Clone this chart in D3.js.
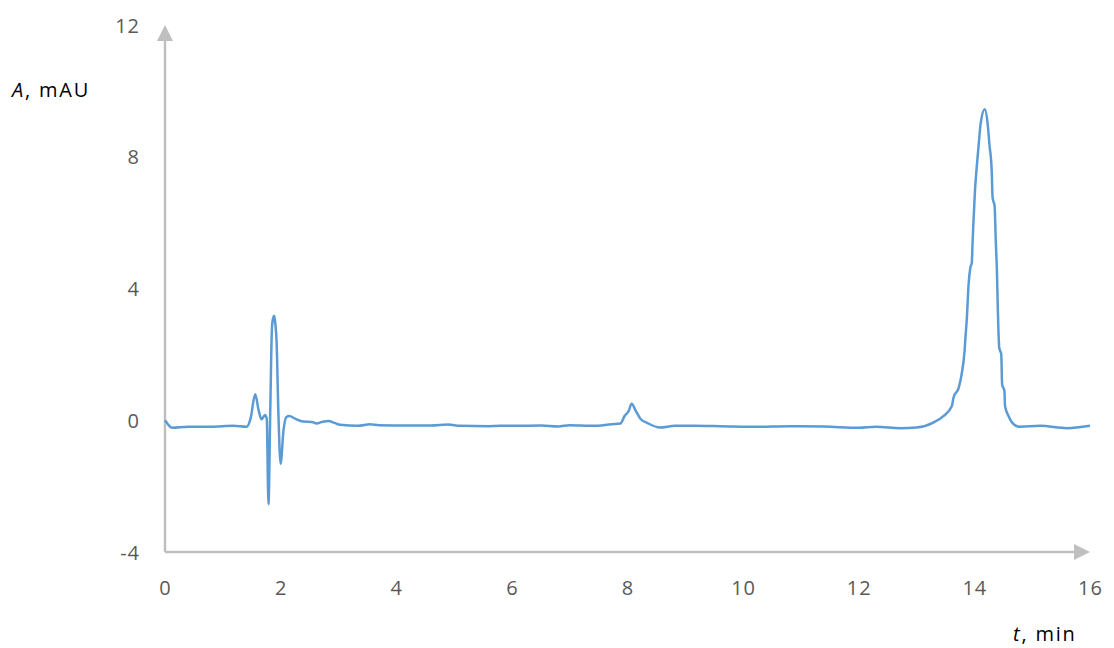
<!DOCTYPE html>
<html lang="en">
    <head>
        <meta charset="utf-8">
        <title>Chromatogram</title>
        <script src="https://cdn.jsdelivr.net/npm/d3@7"></script>
        <style type="text/css">
            body { margin: 0; background: #fff; }
            text { font-family: "Open Sans", "Liberation Sans", sans-serif; fill: #595959; }
        </style>
    </head>
    <body>
        <script type="text/javascript">
            // retention time, min
            var times = [0, 0.05, 0.12, 0.4, 0.8, 1.18, 1.41, 1.48, 1.56, 1.62, 1.67, 1.73, 1.76, 1.79, 1.82, 1.85, 1.87, 1.89, 1.91, 1.93, 1.96, 2.0, 2.05, 2.1, 2.15, 2.25, 2.39, 2.54, 2.62, 2.72, 2.83, 2.93, 3.03, 3.34, 3.55, 3.7, 4.2, 4.6, 4.9, 5.1, 5.6, 5.8, 6.1, 6.5, 6.8, 7.0, 7.4, 7.73, 7.88, 7.95, 8.02, 8.07, 8.15, 8.23, 8.33, 8.56, 8.82, 9.14, 9.6, 10.2, 10.8, 11.4, 12.0, 12.3, 12.72, 13.0, 13.29, 13.47, 13.61, 13.64, 13.73, 13.78, 13.83, 13.845, 13.87, 13.9, 13.93, 13.955, 13.97, 13.985, 14.01, 14.04, 14.08, 14.11, 14.18, 14.23, 14.26, 14.3, 14.315, 14.35, 14.37, 14.39, 14.405, 14.43, 14.465, 14.48, 14.52, 14.53, 14.59, 14.68, 14.79, 15.14, 15.6, 16.0];
            // absorbance, mAU
            var absorb = [0, -0.12, -0.23, -0.2, -0.2, -0.17, -0.2, 0.05, 0.79, 0.3, 0.03, 0.16, 0.05, -2.55, 0.2, 2.8, 3.1, 3.17, 2.9, 2.4, 0.3, -1.32, -0.3, 0.1, 0.13, 0.05, -0.04, -0.05, -0.1, -0.05, -0.02, -0.08, -0.14, -0.17, -0.12, -0.15, -0.16, -0.16, -0.13, -0.17, -0.18, -0.17, -0.17, -0.16, -0.19, -0.15, -0.17, -0.12, -0.1, 0.13, 0.28, 0.5, 0.26, 0.03, -0.07, -0.22, -0.17, -0.17, -0.18, -0.2, -0.18, -0.19, -0.23, -0.2, -0.24, -0.22, -0.07, 0.13, 0.43, 0.69, 0.99, 1.4, 2.1, 2.5, 3.1, 4.13, 4.63, 4.78, 5.44, 6.05, 6.96, 7.67, 8.48, 9.03, 9.44, 8.99, 8.38, 7.57, 6.76, 6.5, 5.44, 4.53, 3.42, 2.2, 2.0, 1.09, 0.89, 0.43, 0.13, -0.12, -0.2, -0.17, -0.24, -0.17];

            var xTicks = [0, 2, 4, 6, 8, 10, 12, 14, 16];
            var yTicks = [-4, 0, 4, 8, 12];

            var w = 1114;
            var h = 648;

            var svg = d3.select('body').append('svg')
                        .attr('width', w)
                        .attr('height', h);

            var xScale = d3.scaleLinear().domain([0, 16]).range([165, 1090]);
            var yScale = d3.scaleLinear().domain([-4, 12]).range([552, 25]);

            var axisColor = '#bfbfbf';
            var plain = function(d) { return String(d); };  // keep "-4" with a hyphen

            // axes as arrows
            svg.append('line')
                .attr('x1', xScale(0)).attr('y1', yScale(-4))
                .attr('x2', xScale(0)).attr('y2', yScale(12) + 14)
                .attr('stroke', axisColor).attr('stroke-width', 2.5);
            svg.append('line')
                .attr('x1', xScale(0)).attr('y1', yScale(-4))
                .attr('x2', xScale(16) - 14).attr('y2', yScale(-4))
                .attr('stroke', axisColor).attr('stroke-width', 2.5);
            svg.append('path')
                .attr('d', 'M' + xScale(0) + ',' + yScale(12) + 'l-8,16h16z')
                .attr('fill', axisColor);
            svg.append('path')
                .attr('d', 'M' + xScale(16) + ',' + yScale(-4) + 'l-16,-8v16z')
                .attr('fill', axisColor);

            // tick labels
            var yAxis = svg.append('g')
                .attr('transform', 'translate(140,0)')
                .call(d3.axisLeft(yScale).tickValues(yTicks).tickFormat(plain).tickSize(0).tickPadding(0));
            yAxis.select('.domain').remove();
            yAxis.selectAll('text')
                .attr('dy', '0.35em');

            var xAxis = svg.append('g')
                .attr('transform', 'translate(0,' + (yScale(-4) + 29) + ')')
                .call(d3.axisBottom(xScale).tickValues(xTicks).tickFormat(plain).tickSize(0).tickPadding(0));
            xAxis.select('.domain').remove();
            xAxis.selectAll('text')
                .attr('dy', '0.71em');

            svg.selectAll('.tick text')
                .attr('font-family', null)
                .attr('fill', '#595959')
                .style('font-size', '20px')
                .style('letter-spacing', '1px');

            // axis titles
            var yTitle = svg.append('text')
                .attr('x', 12).attr('y', 97)
                .style('font-size', '20px')
                .style('letter-spacing', '1.8px');
            yTitle.append('tspan').style('font-style', 'italic').style('fill', '#000').text('A');
            yTitle.append('tspan').style('fill', '#000').text(', mAU');

            var xTitle = svg.append('text')
                .attr('x', 1013).attr('y', 641)
                .style('font-size', '20px')
                .style('letter-spacing', '1.8px');
            xTitle.append('tspan').style('font-style', 'italic').style('fill', '#000').text('t');
            xTitle.append('tspan').style('fill', '#000').text(', min');

            // trace
            var data = times.map(function(t, i) { return {t: t, a: absorb[i]}; });
            var line = d3.line()
                .x(function(d) { return xScale(d.t); })
                .y(function(d) { return yScale(d.a); })
                .curve(d3.curveMonotoneX);

            svg.append('path')
                .datum(data)
                .attr('d', line)
                .attr('fill', 'none')
                .attr('stroke', '#5b9bd5')
                .attr('stroke-width', 2.5)
                .attr('stroke-linejoin', 'round');
        </script>
    </body>
</html>
